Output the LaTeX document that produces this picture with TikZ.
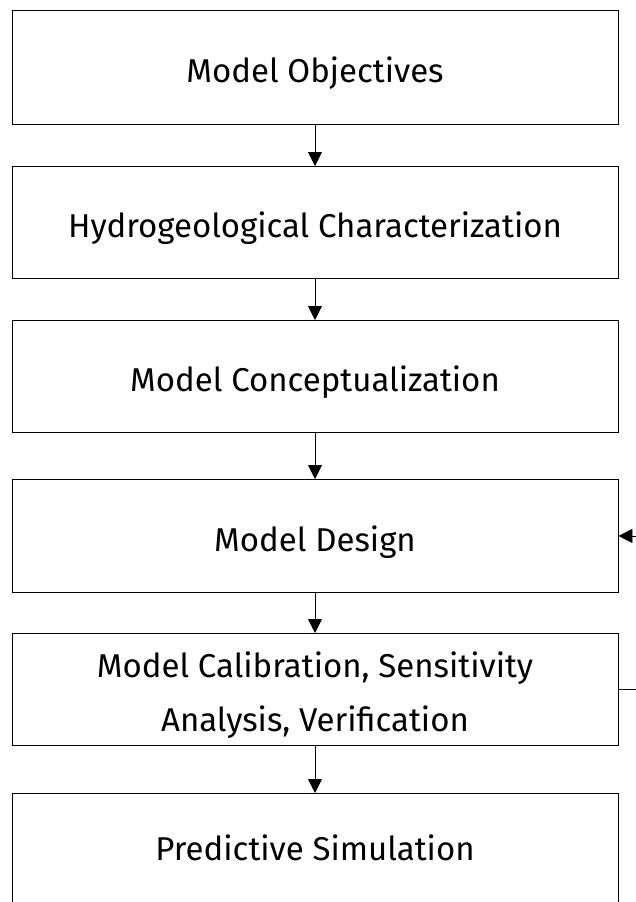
\documentclass[tikz,border=0pt]{standalone}
\usepackage{fontspec}
\setmainfont{Fira Sans}
\usetikzlibrary{arrows.meta}
\begin{document}
\begin{tikzpicture}[x=1pt,y=-1pt,
  stage/.style={draw=black, line width=0.9pt, minimum width=606pt, inner sep=0pt, anchor=north},
  stagetext/.style={font=\fontsize{33}{54}\selectfont, align=center, yshift=-6pt},
  flow/.style={-{Triangle[width=14pt,length=14pt]}, line width=0.9pt}]
\useasboundingbox (0,0) rectangle (636,902);
\clip (0,0) rectangle (636,902);
\node[stage, minimum height=114pt, label={[stagetext, name=t1]center:Model Objectives}] (b1) at (315,10) {};
\node[stage, minimum height=112pt, label={[stagetext, name=t2]center:Hydrogeological Characterization}] (b2) at (315,166) {};
\node[stage, minimum height=112pt, label={[stagetext, name=t3]center:Model Conceptualization}] (b3) at (315,320) {};
\node[stage, minimum height=113pt, label={[stagetext, name=t4]center:Model Design}] (b4) at (315,479) {};
\node[stage, minimum height=112pt, label={[stagetext, name=t5]center:Model Calibration, Sensitivity\\Analysis, Verification}] (b5) at (315,633) {};
\node[stage, minimum height=113pt, label={[stagetext, yshift=8pt, name=t6]center:Predictive Simulation}] (b6) at (315,793) {};
\draw[flow] (b1.south) -- (b2.north);
\draw[flow] (b2.south) -- (b3.north);
\draw[flow] (b3.south) -- (b4.north);
\draw[flow] (b4.south) -- (b5.north);
\draw[flow] (b5.south) -- (b6.north);
\coordinate (fb) at (650,0);
\draw[flow] (b5.east) -- (b5.east -| fb) -- (b4.east -| fb) -- (b4.east);
\end{tikzpicture}
\end{document}
